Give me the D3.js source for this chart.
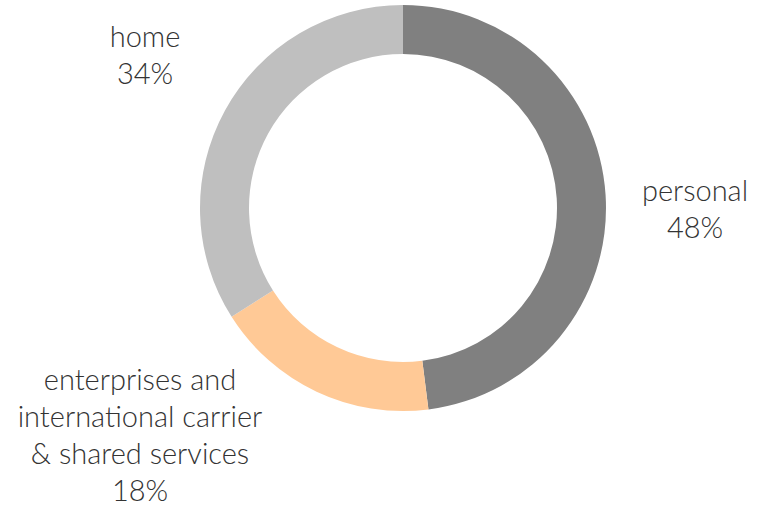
<!DOCTYPE html>
<html>
<head>
<meta charset="utf-8">
<script src="https://cdn.jsdelivr.net/npm/d3@7"></script>
<style>
	body{margin:0;background:#fff;}
	svg text{font-family:"Helvetica Neue","Lato","Open Sans",sans-serif;font-weight:300;fill:#333;}
</style>
</head>
<body>
<div class="chart"></div>
<script>
var categories = ["personal","enterprises and\ninternational carrier\n& shared services","home"];
var values = [48,18,34];
var colors = ["#808080","#ffc996","#bfbfbf"];

var width = 769, height = 507;
var cx = 403, cy = 208, outerR = 203, innerR = 154;
// where each label block is centred (x) and where its first baseline sits (y)
var labelPos = [[695,201],[140,390],[145,47]];
var lineH = 37;

var svg = d3.select(".chart").append("svg")
	.attr("width",width)
	.attr("height",height);

var pie = d3.pie().sort(null).value(function(d){return d;});
var arc = d3.arc().innerRadius(innerR).outerRadius(outerR);

var g = svg.append("g").attr("transform","translate("+cx+","+cy+")");
g.selectAll("path")
	.data(pie(values))
	.enter()
	.append("path")
	.attr("d",arc)
	.attr("fill",function(d,i){return colors[i];});

categories.forEach(function(c,i){
	var lines = c.split("\n").concat([values[i]+"%"]);
	var t = svg.append("text")
		.attr("text-anchor","middle")
		.attr("font-size",29);
	lines.forEach(function(l,j){
		t.append("tspan")
			.attr("x",labelPos[i][0])
			.attr("y",labelPos[i][1]+j*lineH)
			.text(l);
	});
});
</script>
</body>
</html>
